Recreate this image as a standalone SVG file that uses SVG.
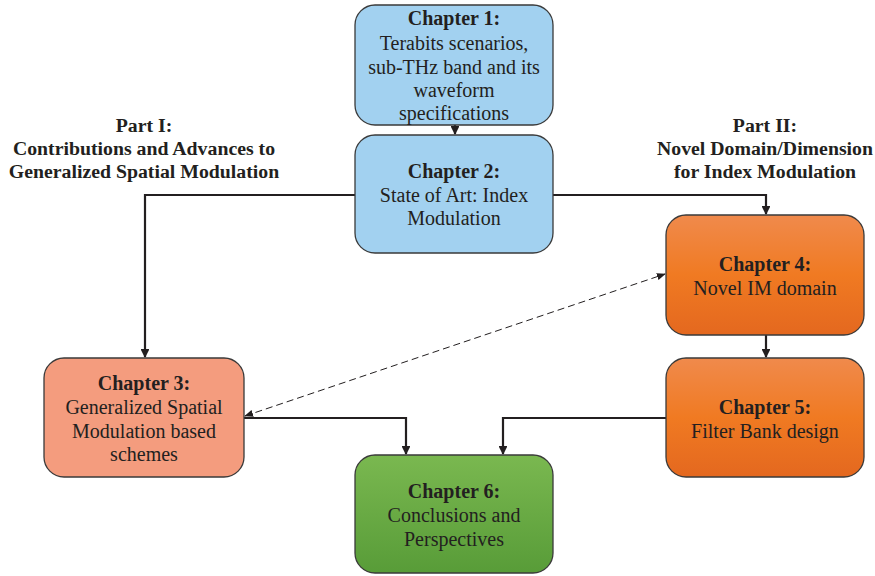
<svg xmlns="http://www.w3.org/2000/svg" width="875" height="576" viewBox="0 0 875 576">
<style>
.box{stroke:#3a3a3a;stroke-width:1.3}
.t{font-family:"Liberation Serif","Times New Roman",serif;font-size:20px;fill:#231f20;text-anchor:middle}
.b{font-weight:bold}
.part{font-family:"Liberation Serif","Times New Roman",serif;font-size:19.8px;font-weight:bold;fill:#231f20;text-anchor:middle}
.c{fill:none;stroke:#231f20;stroke-width:2.2}
.d{fill:none;stroke:#231f20;stroke-width:1;stroke-dasharray:7,4}
</style>
<defs>
<linearGradient id="gOr" x1="0" y1="0" x2="0" y2="1">
<stop offset="0" stop-color="#F08A4C"/><stop offset="0.5" stop-color="#F07A22"/><stop offset="1" stop-color="#E4681F"/>
</linearGradient>
<linearGradient id="gGr" x1="0" y1="0" x2="0" y2="1">
<stop offset="0" stop-color="#7AB850"/><stop offset="1" stop-color="#589C38"/>
</linearGradient>
<marker id="ah" viewBox="0 0 10 10" refX="9" refY="5" markerWidth="4" markerHeight="4" orient="auto-start-reverse" markerUnits="strokeWidth">
<path d="M0,0 L10,5 L0,10 z" fill="#231f20"/>
</marker>
<marker id="ahs" viewBox="0 0 10 10" refX="9" refY="5" markerWidth="9" markerHeight="9" orient="auto-start-reverse" markerUnits="strokeWidth">
<path d="M0,1 L10,5 L0,9 z" fill="#231f20"/>
</marker>
</defs>

<g id="part1">
<text class="part" x="144" y="132">Part I:</text>
<text class="part" x="144" y="155">Contributions and Advances to</text>
<text class="part" x="144" y="178">Generalized Spatial Modulation</text>
</g>
<g id="part2">
<text class="part" x="765" y="132">Part II:</text>
<text class="part" x="765" y="155">Novel Domain/Dimension</text>
<text class="part" x="765" y="178">for Index Modulation</text>
</g>

<g id="connectors">
<path class="c" d="M455,125 V134" marker-end="url(#ah)"/>
<path class="c" d="M355,195 H145 V357" marker-end="url(#ah)"/>
<path class="c" d="M553,195 H766 V214" marker-end="url(#ah)"/>
<path class="c" d="M766,335 V357" marker-end="url(#ah)"/>
<path class="c" d="M244,418 H406 V454" marker-end="url(#ah)"/>
<path class="c" d="M666,418 H503 V454" marker-end="url(#ah)"/>
<path class="d" d="M245,416 L665,274" marker-start="url(#ahs)" marker-end="url(#ahs)"/>
</g>

<g id="ch1">
<rect class="box" x="355" y="5" width="198" height="120" rx="20" fill="#A2D1F0"/>
<text class="t b" x="454" y="25">Chapter 1:</text>
<text class="t" x="454" y="50">Terabits scenarios,</text>
<text class="t" x="454" y="74">sub-THz band and its</text>
<text class="t" x="454" y="97">waveform</text>
<text class="t" x="454" y="120">specifications</text>
</g>
<g id="ch2">
<rect class="box" x="355" y="135" width="198" height="118" rx="20" fill="#A2D1F0"/>
<text class="t b" x="454" y="178">Chapter 2:</text>
<text class="t" x="454" y="202">State of Art: Index</text>
<text class="t" x="454" y="225">Modulation</text>
</g>
<g id="ch3">
<rect class="box" x="44" y="358" width="200" height="119" rx="20" fill="#F49C7E"/>
<text class="t b" x="144" y="390">Chapter 3:</text>
<text class="t" x="144" y="414">Generalized Spatial</text>
<text class="t" x="144" y="438">Modulation based</text>
<text class="t" x="144" y="461">schemes</text>
</g>
<g id="ch4">
<rect class="box" x="666" y="215" width="198" height="120" rx="20" fill="url(#gOr)"/>
<text class="t b" x="765" y="271">Chapter 4:</text>
<text class="t" x="765" y="295">Novel IM domain</text>
</g>
<g id="ch5">
<rect class="box" x="666" y="358" width="198" height="119" rx="20" fill="url(#gOr)"/>
<text class="t b" x="765" y="414">Chapter 5:</text>
<text class="t" x="765" y="438">Filter Bank design</text>
</g>
<g id="ch6">
<rect class="box" x="355" y="455" width="198" height="118" rx="20" fill="url(#gGr)"/>
<text class="t b" x="454" y="498">Chapter 6:</text>
<text class="t" x="454" y="522">Conclusions and</text>
<text class="t" x="454" y="546">Perspectives</text>
</g>
</svg>
